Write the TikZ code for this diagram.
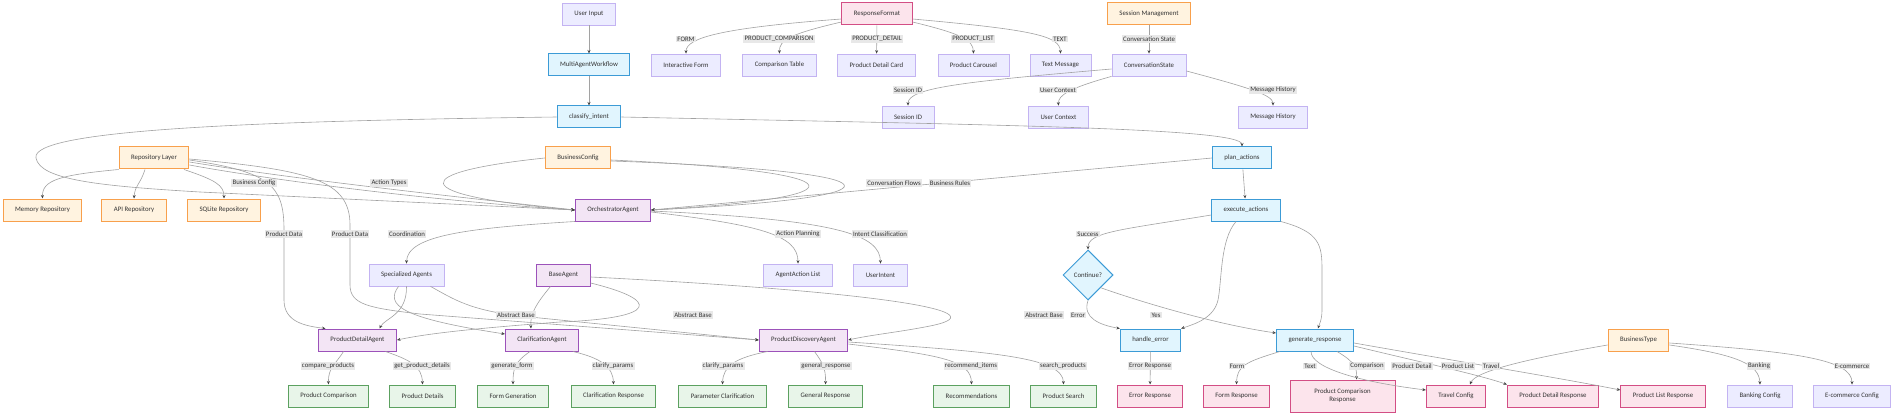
\documentclass[tikz,border=0pt]{standalone}
\usepackage{fontspec}
\setmainfont{Carlito}
\usepackage{xcolor}
\usepackage{tikz}
\usetikzlibrary{arrows.meta, shapes.geometric}

\definecolor{lavfill}{HTML}{ECECFF}
\definecolor{lavline}{HTML}{C3B3F2}
\definecolor{flowfill}{HTML}{E1F5FE}
\definecolor{flowline}{HTML}{3C9BD6}
\definecolor{cfgfill}{HTML}{FFF3E0}
\definecolor{cfgline}{HTML}{F8A04C}
\definecolor{agentfill}{HTML}{F3E5F5}
\definecolor{agentline}{HTML}{9C52BA}
\definecolor{outfill}{HTML}{E8F5E9}
\definecolor{outline}{HTML}{5CA160}
\definecolor{respfill}{HTML}{FCE4EC}
\definecolor{respline}{HTML}{D34E85}
\definecolor{lineg}{HTML}{A2A2A2}
\definecolor{tipc}{HTML}{444444}
\definecolor{textc}{HTML}{333333}
\definecolor{lblfill}{HTML}{E8E8E8}

\begin{document}
\begin{tikzpicture}[
    x=1pt, y=-1pt,
    basebox/.style={rectangle, draw, minimum height=22pt, inner xsep=12pt, inner ysep=2pt, align=center, text=textc, font=\fontsize{6.8}{8}\selectfont},
    plainbox/.style={basebox, fill=lavfill, draw=lavline, line width=0.8pt},
    flowbox/.style={basebox, fill=flowfill, draw=flowline, line width=1pt},
    cfgbox/.style={basebox, fill=cfgfill, draw=cfgline, line width=1pt},
    agentbox/.style={basebox, fill=agentfill, draw=agentline, line width=1pt},
    outbox/.style={basebox, fill=outfill, draw=outline, line width=1pt},
    respbox/.style={basebox, fill=respfill, draw=respline, line width=1pt},
    conn/.style={draw=lineg, line width=0.6pt, -{Stealth[length=3.5pt, width=3pt, color=tipc]}},
    lbl/.style={fill=lblfill, inner sep=1.2pt, text=textc, font=\fontsize{6.8}{8}\selectfont},
]

\useasboundingbox[fill=white] (0,0) rectangle (1904,417);

% workflow
\node[plainbox] (userin) at (589,14) {User Input};
\node[flowbox] (mawf) at (589,65) {MultiAgentWorkflow};
\node[flowbox] (classify) at (589,117) {classify\_intent};
\node[flowbox] (planact) at (1242,158) {plan\_actions};
\node[flowbox] (execact) at (1246,210) {execute\_actions};
\node[flowbox, diamond, minimum width=50pt, minimum height=50pt, inner sep=0pt] (cont) at (1088,275) {Continue?};
\node[flowbox] (handerr) at (1150.5,340) {handle\_error};
\node[flowbox] (genresp) at (1315,340) {generate\_response};

% response formats
\node[respbox] (respfmt) at (877,14) {ResponseFormat};
\node[plainbox] (iform) at (686,65) {Interactive Form};
\node[plainbox] (ctable) at (779.5,65) {Comparison Table};
\node[plainbox] (pdcard) at (876.5,65) {Product Detail Card};
\node[plainbox] (pcarousel) at (973.5,65) {Product Carousel};
\node[plainbox] (textmsg) at (1060.5,65) {Text Message};

% session
\node[cfgbox] (sessmgmt) at (1149,14) {Session Management};
\node[plainbox] (convstate) at (1149,65) {ConversationState};
\node[plainbox] (sessid) at (908,117) {Session ID};
\node[plainbox] (usrctx) at (1058.5,117) {User Context};
\node[plainbox] (msghist) at (1273,117) {Message History};

% repositories and config
\node[cfgbox] (repolayer) at (154,158) {Repository Layer};
\node[cfgbox] (memrepo) at (42.5,210) {Memory Repository};
\node[cfgbox] (apirepo) at (134,210) {API Repository};
\node[cfgbox] (sqlrepo) at (224,210) {SQLite Repository};
\node[cfgbox] (bizcfg) at (578,158) {BusinessConfig};
\node[cfgbox] (biztype) at (1638.5,340) {BusinessType};

% agents
\node[agentbox] (orch) at (613,210) {OrchestratorAgent};
\node[plainbox] (specag) at (406.5,275) {Specialized Agents};
\node[agentbox] (baseag) at (563.5,275) {BaseAgent};
\node[plainbox] (aalist) at (798,275) {AgentAction List};
\node[plainbox] (uintent) at (880.5,275) {UserIntent};
\node[agentbox] (pdagent) at (357.5,340) {ProductDetailAgent};
\node[agentbox] (clagent) at (542,340) {ClarificationAgent};
\node[agentbox] (pdisc) at (803.5,340) {ProductDiscoveryAgent};

% outputs
\node[outbox] (pcomp) at (328.5,396) {Product Comparison};
\node[outbox] (pdetails) at (422.5,396) {Product Details};
\node[outbox] (formgen) at (513,396) {Form Generation};
\node[outbox] (clresp) at (613.5,396) {Clarification Response};
\node[outbox] (paramcl) at (722.5,396) {Parameter Clarification};
\node[outbox] (gresp) at (825.5,396) {General Response};
\node[outbox] (recs) at (971.5,396) {Recommendations};
\node[outbox] (psearch) at (1063.5,396) {Product Search};
\node[respbox] (errresp) at (1150,396) {Error Response};
\node[respbox] (formresp) at (1236.5,396) {Form Response};
\node[respbox, minimum width=105pt, minimum height=32pt] (pcresp) at (1342.5,396) {Product Comparison\\Response};
\node[respbox] (travelcfg) at (1456,396) {Travel Config};
\node[respbox] (pdresp) at (1553,396) {Product Detail Response};
\node[respbox] (plresp) at (1663,396) {Product List Response};
\node[plainbox] (bankcfg) at (1760,396) {Banking Config};
\node[plainbox] (ecomcfg) at (1852,396) {E-commerce Config};

% connectors
\draw[conn] (userin) -- (mawf);
\draw[conn] (mawf) -- (classify);
\draw[conn] (classify.east) .. controls (1000,125) and (1242,128) .. (planact.north);
\draw[conn] (classify.west) .. controls (250,121) and (30,130) .. (36,158) .. controls (40,180) and (100,186) .. (200,192) -- (orch.west);
\draw[conn] (planact) -- (execact);
\draw[conn] (planact.west) -- (orch.east);

\draw[conn] ([yshift=-5pt]respfmt.west) .. controls (720,28) and (686,38) .. (iform.north);
\draw[conn] ([yshift=-8pt]respfmt.west) .. controls (790,34) and (779,40) .. (ctable.north);
\draw[conn] (respfmt) -- (pdcard);
\draw[conn] ([yshift=-8pt]respfmt.east) .. controls (962,34) and (973,40) .. (pcarousel.north);
\draw[conn] ([yshift=-5pt]respfmt.east) .. controls (1035,30) and (1060,36) .. (textmsg.north);

\draw[conn] (sessmgmt) -- (convstate);
\draw[conn] ([yshift=-4pt]convstate.west) .. controls (960,82) and (908,88) .. (sessid.north);
\draw[conn] (convstate.south west) .. controls (1070,88) and (1058,95) .. (usrctx.north);
\draw[conn] ([yshift=-6pt]convstate.east) .. controls (1250,88) and (1273,95) .. (msghist.north);

\draw[conn] (repolayer.south west) .. controls (60,175) and (42,180) .. (memrepo.north);
\draw[conn] ([xshift=-9pt]repolayer.south) .. controls (140,185) and (135,185) .. (apirepo.north);
\draw[conn] ([xshift=30pt]repolayer.south) .. controls (215,180) and (224,185) .. (sqlrepo.north);
\draw[conn] ([yshift=-4pt]repolayer.east) .. controls (300,180) and (450,196) .. (orch.west);
\draw[conn] ([yshift=-7pt]repolayer.east) .. controls (260,178) and (420,200) .. (orch.west);
\draw[conn] ([yshift=-2pt]repolayer.east) .. controls (270,172) and (284,185) .. (284,230) -- (284,300) .. controls (284,322) and (305,326) .. ([xshift=-32pt]pdagent.north);
\draw[conn] ([yshift=-1pt]repolayer.east) .. controls (310,170) and (350,180) .. (350,225) -- (350,285) .. controls (350,305) and (370,308) .. (420,314) -- (pdisc.west);

\draw[conn] (bizcfg.west) .. controls (410,172) and (400,195) .. (orch.west);
\draw[conn] ([yshift=-2pt]bizcfg.east) .. controls (870,172) and (865,198) .. (orch.east);
\draw[conn] ([yshift=-3pt]bizcfg.east) .. controls (920,172) and (910,198) .. (orch.east);

\draw[conn] (orch.south west) .. controls (470,228) and (407,235) .. (specag.north);
\draw[conn] ([yshift=-2pt]orch.east) .. controls (760,225) and (798,235) .. (aalist.north);
\draw[conn] ([yshift=-1pt]orch.east) .. controls (840,220) and (880,235) .. (uintent.north);

\draw[conn] (specag.south) .. controls (407,315) and (385,318) .. ([xshift=22pt]pdagent.north);
\draw[conn] ([xshift=-8pt]specag.south) .. controls (385,305) and (400,318) .. ([yshift=6pt]clagent.west);
\draw[conn] ([xshift=24pt]specag.south) .. controls (455,300) and (470,310) .. (520,316) -- (pdisc.west);
\draw[conn] ([xshift=-13pt]baseag.south) .. controls (535,305) and (530,315) .. ([xshift=-11pt]clagent.north);
\draw[conn] ([yshift=-8pt]baseag.east) .. controls (660,300) and (660,318) .. (560,322) .. controls (480,328) and (430,333) .. (pdagent.east);
\draw[conn] ([yshift=-2pt]baseag.east) .. controls (850,290) and (1010,310) .. (930,326) .. controls (900,332) and (870,335) .. (pdisc.east);

\draw[conn] ([xshift=-14pt]pdagent.south) .. controls (335,365) and (328,368) .. (pcomp.north);
\draw[conn] ([xshift=28pt]pdagent.south) .. controls (410,360) and (422,366) .. (pdetails.north);
\draw[conn] ([xshift=-12pt]clagent.south) .. controls (515,362) and (513,368) .. (formgen.north);
\draw[conn] ([xshift=31pt]clagent.south) .. controls (600,358) and (613,366) .. (clresp.north);
\draw[conn] ([xshift=-36pt]pdisc.south) .. controls (735,358) and (723,366) .. (paramcl.north);
\draw[conn] ([xshift=11pt]pdisc.south) .. controls (822,362) and (826,368) .. (gresp.north);
\draw[conn] ([yshift=-4pt]pdisc.east) .. controls (940,355) and (971,360) .. (recs.north);
\draw[conn] ([yshift=-2pt]pdisc.east) .. controls (1000,352) and (1063,358) .. (psearch.north);

\draw[conn] ([yshift=-5pt]execact.west) .. controls (1120,230) and (1088,232) .. (cont.north);
\draw[conn] ([xshift=-10pt]execact.south) .. controls (1220,240) and (1222,280) .. (1218,300) .. controls (1214,318) and (1195,324) .. (handerr.north east);
\draw[conn] (execact.south east) .. controls (1320,232) and (1322,245) .. (1322,270) -- (1322,310) .. controls (1322,320) and (1319,325) .. ([xshift=3pt]genresp.north);
\draw[conn] (cont.south) .. controls (1082,318) and (1100,325) .. (handerr.north west);
\draw[conn] (cont.south east) .. controls (1150,305) and (1220,325) .. ([yshift=7pt]genresp.west);

\draw[conn] (handerr) -- (errresp);
\draw[conn] ([xshift=-35pt]genresp.south) .. controls (1245,362) and (1237,366) .. (formresp.north);
\draw[conn] ([xshift=22pt]genresp.south) .. controls (1355,362) and (1357,368) .. ([xshift=14pt]pcresp.north);
\draw[conn] ([xshift=-4pt]genresp.south) .. controls (1311,368) and (1360,382) .. ([yshift=6pt]travelcfg.west);
\draw[conn] ([yshift=-6pt]genresp.east) .. controls (1420,362) and (1480,375) .. (pdresp.north west);
\draw[conn] ([yshift=-3pt]genresp.east) .. controls (1450,360) and (1560,378) .. ([yshift=6pt]plresp.west);

\draw[conn] ([yshift=-5pt]biztype.west) .. controls (1520,360) and (1475,372) .. ([xshift=14pt]travelcfg.north);
\draw[conn] ([yshift=-5pt]biztype.east) .. controls (1740,355) and (1759,365) .. (bankcfg.north);
\draw[conn] ([yshift=-3pt]biztype.east) .. controls (1800,352) and (1852,360) .. (ecomcfg.north);

% edge labels
\node[lbl] (l-form) at (686,39) {FORM};
\node[lbl] (l-pcomp) at (779,39) {PRODUCT\_COMPARISON};
\node[lbl] (l-pdet) at (877,39) {PRODUCT\_DETAIL};
\node[lbl] (l-plist) at (973,39) {PRODUCT\_LIST};
\node[lbl] (l-text) at (1060,39) {TEXT};
\node[lbl] (l-convst) at (1149,39) {Conversation State};
\node[lbl] (l-sessid) at (908,90) {Session ID};
\node[lbl] (l-usrctx) at (1058,90) {User Context};
\node[lbl] (l-msghist) at (1273,90) {Message History};
\node[lbl] (l-bizcfg) at (254,183) {Business Config};
\node[lbl] (l-acttypes) at (389,183) {Action Types};
\node[lbl] (l-convfl) at (894,183) {Conversation Flows};
\node[lbl] (l-bizrules) at (950,183) {Business Rules};
\node[lbl] (l-pdata1) at (284,234) {Product Data};
\node[lbl] (l-pdata2) at (350,234) {Product Data};
\node[lbl] (l-coord) at (407,234) {Coordination};
\node[lbl] (l-actplan) at (798,234) {Action Planning};
\node[lbl] (l-intcls) at (880,234) {Intent Classification};
\node[lbl] (l-success) at (1088,234) {Success};
\node[lbl] (l-abs1) at (516,315) {Abstract Base};
\node[lbl] (l-abs2) at (693,315) {Abstract Base};
\node[lbl] (l-abs3) at (1044,315) {Abstract Base};
\node[lbl] (l-error) at (1078,315) {Error};
\node[lbl] (l-yes) at (1156,315) {Yes};
\node[lbl] (l-compare) at (328,366) {compare\_products};
\node[lbl] (l-getdet) at (422,366) {get\_product\_details};
\node[lbl] (l-genform) at (512,366) {generate\_form};
\node[lbl] (l-clar1) at (613,366) {clarify\_params};
\node[lbl] (l-clar2) at (723,366) {clarify\_params};
\node[lbl] (l-genrsp) at (826,366) {general\_response};
\node[lbl] (l-recitems) at (971,366) {recommend\_items};
\node[lbl] (l-search) at (1063,366) {search\_products};
\node[lbl] (l-errresp) at (1150,366) {Error Response};
\node[lbl] (l-formr) at (1237,366) {Form};
\node[lbl] (l-textr) at (1310,366) {Text};
\node[lbl] (l-compr) at (1367,366) {Comparison};
\node[lbl] (l-pdetr) at (1412,366) {Product Detail};
\node[lbl] (l-plistr) at (1458,366) {Product List};
\node[lbl] (l-travel) at (1491,366) {Travel};
\node[lbl] (l-banking) at (1759,366) {Banking};
\node[lbl] (l-ecom) at (1852,366) {E-commerce};

\end{tikzpicture}
\end{document}
